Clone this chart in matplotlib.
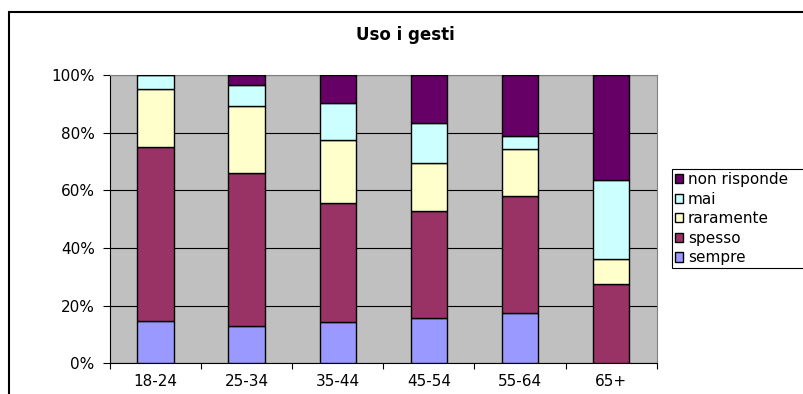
import numpy as np
import matplotlib.pyplot as plt
from matplotlib.patches import Rectangle

# age groups and answer shares (percent of each group)
categorie = ['18-24', '25-34', '35-44', '45-54', '55-64', '65+']
sempre = [14.8, 13.1, 14.4, 15.7, 17.4, 0.0]
spesso = [60.2, 52.9, 41.3, 37.1, 40.7, 27.4]
raramente = [20.1, 23.1, 21.8, 16.7, 16.2, 8.7]
mai = [4.9, 7.6, 12.9, 13.7, 4.7, 27.4]
non_risponde = [0.0, 3.3, 9.6, 16.8, 21.0, 36.5]

serie = [
    ('sempre', sempre, '#9999FF'),
    ('spesso', spesso, '#993366'),
    ('raramente', raramente, '#FFFFCC'),
    ('mai', mai, '#CCFFFF'),
    ('non risponde', non_risponde, '#660066'),
]

plt.rcParams['font.family'] = ['DejaVu Sans']

fig = plt.figure(figsize=(8.04, 3.94), dpi=100)
ax = fig.add_axes([110 / 804, 1 - 363.3 / 394, 546.7 / 804, 288.3 / 394])
ax.set_facecolor('#C0C0C0')

x = np.arange(len(categorie))
base = np.zeros(len(categorie))
for nome, valori, colore in serie:
    ax.bar(x, valori, width=0.4, bottom=base, color=colore,
           edgecolor='black', linewidth=1.0, label=nome, zorder=3)
    base += np.array(valori)

ax.set_xlim(-0.5, len(categorie) - 0.5)
ax.set_ylim(0, 100)

# horizontal grid every 20%
ax.set_yticks(np.arange(0, 101, 20))
ax.set_yticklabels(['%d%%' % v for v in range(0, 101, 20)])
ax.yaxis.grid(True, color='black', linewidth=0.8, zorder=1)
ax.tick_params(axis='y', direction='out', length=5, width=0.8, pad=6,
               labelsize=11, colors='black')

# ticks between categories, labels in the middle
ax.set_xticks(np.arange(-0.5, len(categorie), 1.0))
ax.set_xticklabels([])
ax.set_xticks(x, minor=True)
ax.set_xticklabels(categorie, minor=True)
ax.tick_params(axis='x', which='major', direction='out', length=4, width=0.8)
ax.tick_params(axis='x', which='minor', length=0, pad=8, labelsize=11)

ax.spines['left'].set_color('black')
ax.spines['bottom'].set_color('black')
ax.spines['top'].set_color('#808080')
ax.spines['right'].set_color('#808080')
for s in ax.spines.values():
    s.set_linewidth(0.8)

fig.text(405 / 804, 1 - 35 / 394, 'Uso i gesti', ha='center', va='center',
         fontsize=12, fontweight='bold')

# legend box runs past the right edge of the figure
handles, labels = ax.get_legend_handles_labels()
leg = fig.legend(handles[::-1], labels[::-1], loc='upper left',
                 bbox_to_anchor=(672 / 804, 1 - 169 / 394 - 0.3, 0.3, 0.3),
                 mode='expand', borderaxespad=0,
                 fontsize=11, frameon=True, fancybox=False, framealpha=1,
                 edgecolor='black', handlelength=0.55, handleheight=0.55,
                 handletextpad=0.3, labelspacing=0.3, borderpad=0.2)
leg.get_frame().set_linewidth(0.8)

# outer chart border
fig.patches.append(Rectangle((8.5 / 804, -0.1), 1.2, 1.1 - 12.5 / 394,
                             transform=fig.transFigure, fill=False,
                             edgecolor='black', linewidth=1.5))

fig.savefig('out.png', dpi=100)
